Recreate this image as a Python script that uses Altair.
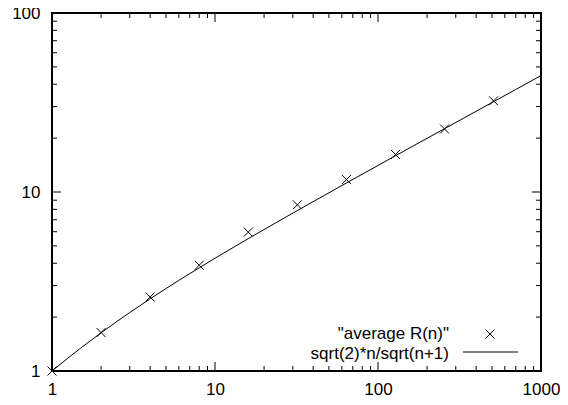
import altair as alt
import pandas as pd

# measured points
n_points = [1, 2, 4, 8, 16, 32, 64, 128, 256, 512]
r_avg = [1.0, 1.64, 2.59, 3.90, 5.97, 8.48, 11.74, 16.2, 22.5, 32.3]

# curve sqrt(2)*n/sqrt(n+1) sampled values
n_curve = [1, 1.25, 1.5, 1.75, 2, 2.5, 3, 4, 5, 6, 8, 10, 12, 16, 24, 32, 48, 64,
           100, 128, 200, 256, 400, 512, 700, 1000]
f_curve = [1.0, 1.1785, 1.342, 1.4924, 1.633, 1.890, 2.121, 2.530, 2.887, 3.207,
           3.771, 4.264, 4.707, 5.488, 6.788, 7.877, 9.697, 11.227,
           14.07, 15.94, 19.95, 22.58, 28.25, 31.97, 37.39, 44.70]

x_major = [1, 10, 100, 1000]
x_minor = [2, 3, 4, 5, 6, 7, 8, 9, 20, 30, 40, 50, 60, 70, 80, 90,
           200, 300, 400, 500, 600, 700, 800, 900]
y_major = [1, 10, 100]
y_minor = [2, 3, 4, 5, 6, 7, 8, 9, 20, 30, 40, 50, 60, 70, 80, 90]

legend_labels = ['"average R(n)"', 'sqrt(2)*n/sqrt(n+1)']

W, H = 489, 358
FONT = "Liberation Sans"
FS = 17

xscale = alt.Scale(type="log", domain=[1, 1000], nice=False)
yscale = alt.Scale(type="log", domain=[1, 100], nice=False)

xaxis = alt.Axis(values=x_major, format="d", grid=False, ticks=False, domain=False,
                 labelFont=FONT, labelFontSize=FS, labelColor="black",
                 labelPadding=10, labelFlush=False, labelOverlap=False, title=None)
yaxis = alt.Axis(values=y_major, format="d", grid=False, ticks=False, domain=False,
                 labelFont=FONT, labelFontSize=FS, labelColor="black",
                 labelPadding=12, labelFlush=False, labelOverlap=False, title=None)

curve_df = pd.DataFrame({"n": n_curve, "v": f_curve})
pts_df = pd.DataFrame({"n": n_points, "v": r_avg})

curve = alt.Chart(curve_df).mark_line(color="black", strokeWidth=1, clip=True).encode(
    x=alt.X("n:Q", scale=xscale, axis=xaxis, title=None),
    y=alt.Y("v:Q", scale=yscale, axis=yaxis, title=None),
)

CROSS = "M-1,-1L1,1M1,-1L-1,1"
points = alt.Chart(pts_df).mark_point(shape=CROSS, size=81, filled=False, stroke="black",
                                      strokeWidth=1, opacity=1).encode(
    x=alt.X("n:Q", scale=xscale, axis=xaxis, title=None),
    y=alt.Y("v:Q", scale=yscale, axis=yaxis, title=None),
)


def xticks(vals, length):
    df = pd.DataFrame({"n": vals})
    bottom = alt.Chart(df).mark_rule(color="black", strokeWidth=1).encode(
        x=alt.X("n:Q", scale=xscale, axis=xaxis, title=None),
        y=alt.value(H), y2=alt.value(H - length))
    top = alt.Chart(df).mark_rule(color="black", strokeWidth=1).encode(
        x=alt.X("n:Q", scale=xscale, axis=xaxis, title=None),
        y=alt.value(0), y2=alt.value(length))
    return [bottom, top]


def yticks(vals, length):
    df = pd.DataFrame({"v": vals})
    left = alt.Chart(df).mark_rule(color="black", strokeWidth=1).encode(
        y=alt.Y("v:Q", scale=yscale, axis=yaxis, title=None),
        x=alt.value(0), x2=alt.value(length))
    right = alt.Chart(df).mark_rule(color="black", strokeWidth=1).encode(
        y=alt.Y("v:Q", scale=yscale, axis=yaxis, title=None),
        x=alt.value(W), x2=alt.value(W - length))
    return [left, right]


ticks = xticks(x_major, 9) + xticks(x_minor, 5) + yticks(y_major, 9) + yticks(y_minor, 5)

# legend (key box in the lower right)
leg1 = alt.Chart(pd.DataFrame({"l": [legend_labels[0]]})).mark_text(
    align="right", baseline="alphabetic", font=FONT, fontSize=FS, color="black").encode(
    text="l:N", x=alt.value(397), y=alt.value(326))
leg2 = alt.Chart(pd.DataFrame({"l": [legend_labels[1]]})).mark_text(
    align="right", baseline="alphabetic", font=FONT, fontSize=FS, color="black").encode(
    text="l:N", x=alt.value(397), y=alt.value(346))
leg_pt = alt.Chart(pd.DataFrame({"l": [legend_labels[0]]})).mark_point(
    shape=CROSS, size=81, filled=False, stroke="black", strokeWidth=1, opacity=1).encode(
    x=alt.value(438), y=alt.value(321))
leg_line = alt.Chart(pd.DataFrame({"l": [legend_labels[1]]})).mark_rule(
    color="black", strokeWidth=1).encode(
    x=alt.value(411), x2=alt.value(466), y=alt.value(339))

chart = alt.layer(curve, points, *ticks, leg1, leg2, leg_pt, leg_line).properties(
    width=W, height=H,
    autosize=alt.AutoSizeParams(type="none"),
    padding={"left": 44, "top": 5, "right": 19, "bottom": 26},
    background="white",
).configure_view(stroke="black", strokeWidth=2)

chart.save("out.html", embed_options={"renderer": "svg", "actions": False})
